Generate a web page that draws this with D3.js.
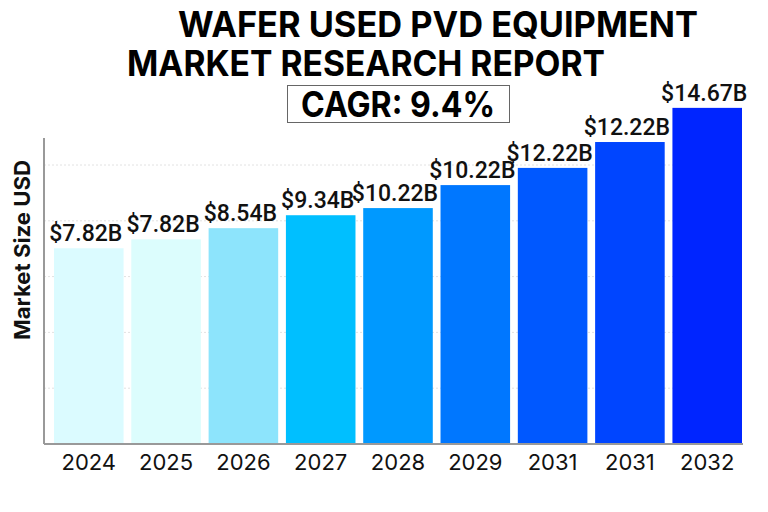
<!DOCTYPE html>
<html>
<head>
<meta charset="utf-8">
<script src="https://cdn.jsdelivr.net/npm/d3@7"></script>
<style>
  body { margin: 0; background: #fff; }
  svg { display: block; font-family: Inter, "Noto Sans", sans-serif; }
</style>
</head>
<body>
<div id="chart"></div>
<script>
// years on the x axis (the source repeats 2031)
const years = ["2024", "2025", "2026", "2027", "2028", "2029", "2031", "2031 ", "2032"];
// printed labels above each bar
const valueLabels = ["$7.82B", "$7.82B", "$8.54B", "$9.34B", "$10.22B", "$10.22B", "$12.22B", "$12.22B", "$14.67B"];
// bar heights as drawn (USD billions)
const barValues = [8.77, 9.17, 9.67, 10.25, 10.57, 11.6, 12.37, 13.53, 15.06];
const barColors = ["#dbfbff", "#dcfdfd", "#8de4fc", "#00bfff", "#0099ff", "#0077ff", "#0058ff", "#0045ff", "#0025ff"];
const gridTicks = [2.5, 5, 7.5, 10, 12.5];

const width = 768;
const height = 512;
const margin = { top: 138, right: 25, bottom: 68, left: 44 };

const svg = d3.select("#chart").append("svg")
    .attr("width", width)
    .attr("height", height);

const x = d3.scaleBand()
    .domain(years)
    .range([54, 742])
    .paddingInner(0.1)
    .paddingOuter(0);

const y = d3.scaleLinear()
    .domain([0, 13.71])
    .range([height - margin.bottom, margin.top]);

// dotted gridlines
svg.append("g")
    .selectAll("line")
    .data(gridTicks)
    .join("line")
    .attr("x1", margin.left)
    .attr("x2", width - margin.right)
    .attr("y1", d => y(d))
    .attr("y2", d => y(d))
    .attr("stroke", "#e2e2e2")
    .attr("stroke-width", 1)
    .attr("stroke-dasharray", "2,2");

// bars
svg.append("g")
    .selectAll("rect")
    .data(barValues)
    .join("rect")
    .attr("x", (d, i) => x(years[i]))
    .attr("y", d => y(d))
    .attr("width", x.bandwidth())
    .attr("height", d => y(0) - y(d))
    .attr("fill", (d, i) => barColors[i]);

// value labels (sit a little left of centre in the source)
svg.append("g")
    .selectAll("text")
    .data(barValues)
    .join("text")
    .attr("x", (d, i) => x(years[i]) + x.bandwidth() / 2 - 3)
    .attr("y", d => y(d) - 7)
    .attr("text-anchor", "middle")
    .attr("font-family", "Roboto, sans-serif")
    .attr("font-size", 23)
    .attr("font-weight", 500)
    .attr("fill", "#111")
    .text((d, i) => valueLabels[i]);

// x axis
svg.append("g")
    .attr("transform", `translate(0,${y(0)})`)
    .call(d3.axisBottom(x).tickSize(0).tickPadding(10).tickFormat(d => d.trim()))
    .call(g => g.select(".domain")
        .attr("d", `M${margin.left},0H${width - margin.right}`)
        .attr("stroke", "#999")
        .attr("stroke-width", 2))
    .call(g => g.selectAll("text")
        .attr("font-size", 22)
        .attr("font-family", "Inter, sans-serif")
        .attr("fill", "#111"));

// y axis line only
svg.append("line")
    .attr("x1", margin.left)
    .attr("x2", margin.left)
    .attr("y1", margin.top)
    .attr("y2", y(0))
    .attr("stroke", "#999")
    .attr("stroke-width", 2);

svg.append("text")
    .attr("transform", "translate(30,250) rotate(-90)")
    .attr("text-anchor", "middle")
    .attr("font-size", 22)
    .attr("font-weight", 700)
    .attr("fill", "#111")
    .attr("textLength", 180)
    .attr("lengthAdjust", "spacingAndGlyphs")
    .text("Market Size USD");

// titles
svg.append("text")
    .attr("x", 438)
    .attr("y", 37)
    .attr("text-anchor", "middle")
    .attr("font-size", 35)
    .attr("font-weight", 700)
    .attr("textLength", 520)
    .attr("lengthAdjust", "spacingAndGlyphs")
    .text("WAFER USED PVD EQUIPMENT");

svg.append("text")
    .attr("x", 366)
    .attr("y", 76)
    .attr("text-anchor", "middle")
    .attr("font-size", 35)
    .attr("font-weight", 700)
    .attr("textLength", 478)
    .attr("lengthAdjust", "spacingAndGlyphs")
    .text("MARKET RESEARCH REPORT");

svg.append("rect")
    .attr("x", 287.5)
    .attr("y", 85.5)
    .attr("width", 222)
    .attr("height", 37)
    .attr("fill", "none")
    .attr("stroke", "#666")
    .attr("stroke-width", 1);

svg.append("text")
    .attr("x", 398)
    .attr("y", 117)
    .attr("text-anchor", "middle")
    .attr("font-size", 35)
    .attr("font-weight", 700)
    .attr("textLength", 194)
    .attr("lengthAdjust", "spacingAndGlyphs")
    .text("CAGR: 9.4%");
</script>
</body>
</html>
